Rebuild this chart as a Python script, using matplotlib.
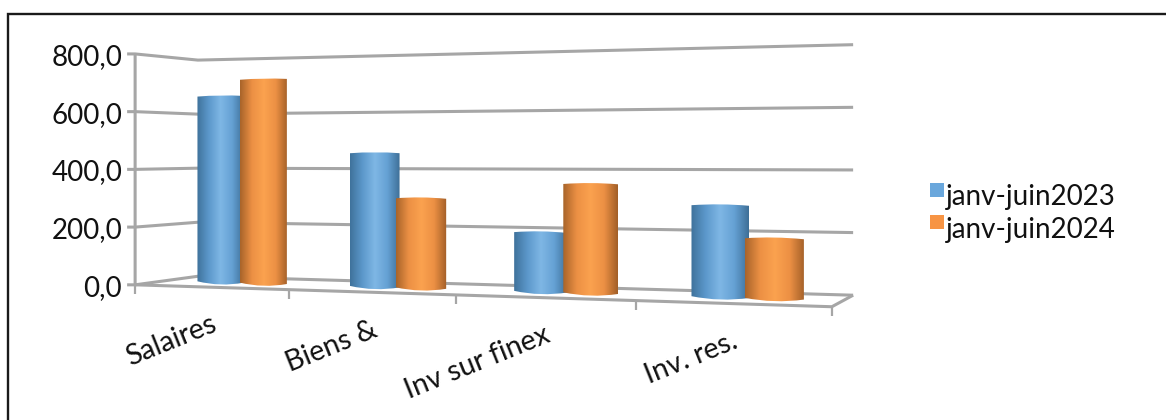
import numpy as np
import matplotlib
matplotlib.use("Agg")
import matplotlib.pyplot as plt
from matplotlib.colors import LinearSegmentedColormap
from matplotlib.patches import PathPatch, Rectangle
from matplotlib.path import Path

categories = ["Salaires", "Biens &", "Inv sur finex", "Inv. res."]
series_names = ["janv-juin2023", "janv-juin2024"]
values_2023 = [657.0, 455.0, 194.0, 289.0]
values_2024 = [714.0, 302.0, 354.0, 187.0]
value_ticks = [0, 200, 400, 600, 800]
value_labels = ["0,0", "200,0", "400,0", "600,0", "800,0"]

GRID = "#A6A6A6"
BLUE_STOPS = ["#3F729B", "#5C98CB", "#7FB7E5", "#65A1D4", "#3E6F97"]
ORANGE_STOPS = ["#A8642A", "#EC9044", "#FBA24F", "#EC9044", "#A25F28"]
LEGEND_BLUE = "#6AA7DC"
LEGEND_ORANGE = "#F79444"

# Camera for the 3D box: (category position, depth, value) -> pixel.
# Fitted from the corners of the chart's floor and back wall.
n = len(categories)
anchors = [
    ((0, 0, 0), (135, 284)), ((n, 0, 0), (832, 307)),
    ((0, 1, 0), (198, 277)), ((n, 1, 0), (853, 295)),
    ((0, 0, 800), (135, 53)), ((0, 1, 800), (198, 61)),
    ((n, 1, 800), (853, 43)), ((n, 0, 800), (832, 38)),
]
rows, rhs = [], []
for (a, b, c), (px, py) in anchors:
    rows.append([a, b, c, 1, 0, 0, 0, 0, -px * a, -px * b, -px * c])
    rhs.append(px)
    rows.append([0, 0, 0, 0, a, b, c, 1, -py * a, -py * b, -py * c])
    rhs.append(py)
cam = np.append(np.linalg.lstsq(np.array(rows, float), np.array(rhs, float), rcond=None)[0], 1).reshape(3, 4)


def project(u, d, val):
    x, y, w = cam @ np.array([u, d, val, 1.0])
    return x / w, y / w


fig = plt.figure(figsize=(11.66, 4.2), dpi=100, facecolor="white")
ax = fig.add_axes([0, 0, 1, 1])
ax.set_xlim(0, 1166)
ax.set_ylim(420, 0)
ax.axis("off")

# Open frame: only the top and left edges are drawn
ax.plot([7.5, 7.5, 1166], [420, 13.5, 13.5], color="#1A1A1A", lw=1.7,
        solid_joinstyle="miter", zorder=1)

plt.rcParams["font.family"] = ["Lato", "DejaVu Sans"]
TEXT = "#111111"


def line(points, lw=2.2, color=GRID, z=2):
    xs, ys = zip(*points)
    ax.plot(xs, ys, color=color, lw=lw, solid_capstyle="butt", solid_joinstyle="miter", zorder=z)


# Walls, floor and axis ticks
for val, lab in zip(value_ticks, value_labels):
    fl, bl, br = project(0, 0, val), project(0, 1, val), project(n, 1, val)
    line([(fl[0] - 8, fl[1]), fl, bl, br])
    ax.text(fl[0] - 13, fl[1] + 3, lab, ha="right", va="center", fontsize=20, color=TEXT)
line([project(0, 0, 0), project(0, 0, 800)])
line([project(0, 0, 0), project(n, 0, 0), project(n, 1, 0)])
for i in range(n + 1):
    x, y = project(i, 0, 0)
    line([(x, y), (x, y + 9)], lw=1.6)

for i, lab in enumerate(categories):
    x, y = project(i + 0.5, 0, 0)
    ax.text(x, y + 24, lab, rotation=22, rotation_mode="anchor", ha="right", va="top",
            fontsize=20.5, color=TEXT)


def cylinder(u, val, stops, z):
    half = 0.155
    lx, by = project(u - half, 0.5, 0)
    rx, by2 = project(u + half, 0.5, 0)
    tlx, ty = project(u - half, 0.5, val)
    trx, ty2 = project(u + half, 0.5, val)
    bulge_top, bulge_bot = 1.0, 2.5
    verts = [(tlx, ty), ((tlx + trx) / 2, ty - 2 * bulge_top), (trx, ty2), (rx, by2),
             ((lx + rx) / 2, (by + by2) / 2 + 2 * bulge_bot), (lx, by), (tlx, ty)]
    codes = [Path.MOVETO, Path.CURVE3, Path.CURVE3, Path.LINETO, Path.CURVE3, Path.CURVE3, Path.CLOSEPOLY]
    clip = PathPatch(Path(verts, codes), fc="none", ec="none", transform=ax.transData)
    ax.add_patch(clip)
    cmap = LinearSegmentedColormap.from_list("shade", stops)
    grad = np.linspace(0, 1, 128).reshape(1, -1)
    im = ax.imshow(grad, cmap=cmap, extent=(min(lx, tlx), max(rx, trx), max(by, by2) + 6, min(ty, ty2) - 4),
                   aspect="auto", interpolation="bilinear", zorder=z)
    im.set_clip_path(clip)


for i, (v23, v24) in enumerate(zip(values_2023, values_2024)):
    cylinder(i + 0.36, v23, BLUE_STOPS, 3 + i)
    cylinder(i + 0.645, v24, ORANGE_STOPS, 3.5 + i)
ax.set_xlim(0, 1166)
ax.set_ylim(420, 0)

# Legend
for top, base, name, col in zip((183, 215), (205, 238), series_names, (LEGEND_BLUE, LEGEND_ORANGE)):
    ax.add_patch(Rectangle((930, top), 14, 13.5, fc=col, ec="none", zorder=3))
    ax.text(946, base, name, ha="left", va="baseline", fontsize=20, color=TEXT)

fig.savefig("out.png", dpi=100)
